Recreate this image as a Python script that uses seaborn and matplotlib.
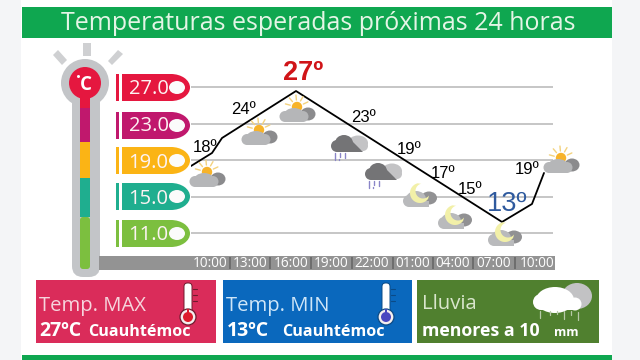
import matplotlib
matplotlib.use("Agg")
import numpy as np
import pandas as pd
import seaborn as sns
import matplotlib.pyplot as plt
from matplotlib.patches import Rectangle, Circle, Ellipse, FancyBboxPatch, Polygon

sns.set_theme(style="white")
plt.rcParams['font.family'] = ['Open Sans', 'DejaVu Sans']

# ---- data -----
title = "Temperaturas esperadas próximas 24 horas"
scale_temps = [27, 23, 19, 15, 11]
scale_labels = ["27.0", "23.0", "19.0", "15.0", "11.0"]
scale_colors = ["#e5173f", "#c0186d", "#fbb415", "#1fae8f", "#7cbf3f"]
hour_labels = ["10:00", "13:00", "16:00", "19:00", "22:00", "01:00", "04:00", "07:00", "10:00"]
hours = [0, 3, 6, 9, 12, 15, 18, 21, 24.2]
line_hours = [-1.41, 0.15, 0.89, 6.37, 21.63, 23.85, 24.74]
line_temps = [18.34, 19.77, 21.41, 26.56, 12.21, 14.18, 17.58]
label_temps = [18, 24, 27, 23, 19, 17, 15, 13, 19]
cards = ["Temp. MAX", "Temp. MIN", "Lluvia"]
card_values = ["27ºC", "13ºC", "menores a 10"]
card_places = ["Cuauhtémoc", "Cuauhtémoc", "mm"]

W, H = 640, 360
fig = plt.figure(figsize=(6.4, 3.6), dpi=100, facecolor="white")

# decorative layer in pixel units, below the chart
bg = fig.add_axes([0, 0, 1, 1], zorder=0)
bg.set_xlim(0, W); bg.set_ylim(H, 0); bg.axis("off")
# icons and labels, above the chart
fg = fig.add_axes([0, 0, 1, 1], zorder=3)
fg.set_xlim(0, W); fg.set_ylim(H, 0); fg.axis("off"); fg.patch.set_alpha(0)


def rect(x, y, w, h, c, z=1, a=bg):
    a.add_patch(Rectangle((x, y), w, h, fc=c, ec="none", zorder=z))


rect(0, 0, 21, H, "#f4f5f7", 0)
rect(612, 0, 28, H, "#f4f5f7", 0)
GREEN = "#0fa750"
rect(22, 7, 590, 31, GREEN)
rect(22, 355, 590, 5, GREEN)
bg.text(318, 23.5, title, color="#e4f5e6", fontsize=18, ha="center", va="center")

# thermometer
GREY = "#c3c5c8"
bg.add_patch(FancyBboxPatch((72, 90), 28, 187, boxstyle="round,pad=0,rounding_size=11",
                            fc=GREY, ec="none", zorder=1))
rect(72, 85, 28, 100, GREY, 1)
bg.add_patch(Circle((85, 83), 24, fc=GREY, ec="none", zorder=1))
bg.add_patch(Circle((85, 83), 16, fc="#e5173f", ec="none", zorder=2))
rect(80, 95, 10, 14, "#e5173f", 2)
rect(80, 108, 10, 34, "#c0186d", 2)
rect(80, 142, 10, 36, "#fbb415", 2)
rect(80, 178, 10, 39, "#1fae8f", 2)
bg.add_patch(FancyBboxPatch((80, 217), 10, 52, boxstyle="round,pad=0,rounding_size=3",
                            fc="#7cbf3f", ec="none", zorder=2))
bg.text(86, 85, "C", color="white", fontsize=13.5, fontweight="bold", ha="center", va="center", zorder=3)
bg.add_patch(Circle((78.5, 76.5), 1.5, fc="white", ec="none", zorder=3))
for xs, ys in [((53, 58, 67, 62), (55, 50, 60, 65)),
               ((83, 91, 91, 83), (43, 43, 56, 56)),
               ((108, 118, 123, 112), (61, 50, 54, 65))]:
    bg.add_patch(Polygon(list(zip(xs, ys)), fc="#cfd0d2", ec="none", zorder=1))

# scale pills
pill_y = [87, 125, 160, 196, 233]
for y, c in zip(pill_y, scale_colors):
    rect(116, y - 13, 3, 27, c, 2)
    rect(122, y - 13, 50, 27, c, 2)
    bg.add_patch(Ellipse((171, y + 0.5), 38, 27, fc=c, ec="none", zorder=2))
    fg.add_patch(Ellipse((177, y + 0.5), 16, 13, fc="#fbfbfb", ec="none", zorder=3))

# time band
rect(99, 256, 456, 14, "#939393", 2)
for x in [230, 270, 311, 352, 393, 433, 473, 515]:
    rect(x - 1, 257, 2, 12, "#6e6e6e", 3)


def sun_cloud(cx, base):
    sy = base - 15
    for a in np.deg2rad([165, 130, 95, 60, 25]):
        fg.plot([cx + 7 * np.cos(a), cx + 12 * np.cos(a)],
                [sy - 7 * np.sin(a), sy - 12 * np.sin(a)],
                color="#f3d27e", lw=1, zorder=3, solid_capstyle="round")
    fg.add_patch(Circle((cx, sy), 5.2, fc="#f7b32a", ec="none", zorder=3))
    # dark lobe on the right
    fg.add_patch(Ellipse((cx + 11, base - 8), 15, 13, fc="#8b8b8d", ec="none", zorder=4))
    # light body
    light = "#b5b6b8"
    fg.add_patch(Circle((cx - 12, base - 5.5), 5.5, fc=light, ec="none", zorder=5))
    fg.add_patch(Ellipse((cx - 3, base - 7), 20, 14, fc=light, ec="none", zorder=5))
    fg.add_patch(Circle((cx + 6, base - 5.5), 5.5, fc=light, ec="none", zorder=5))
    rect(cx - 12, base - 6, 18, 6, light, 5, fg)


def moon_cloud(x0, y0):
    # dark lobe
    fg.add_patch(Ellipse((x0 + 26, y0 + 15), 16, 13, fc="#919193", ec="none", zorder=4))
    # crescent
    t = np.deg2rad(np.linspace(70, 290, 40))
    cx, cy, r = x0 + 17, y0 + 10, 10
    outer = np.c_[cx + r * np.cos(t + 0.6), cy - r * np.sin(t + 0.6)]
    inner = np.c_[cx + 3 + 7.5 * np.cos(t[::-1] + 0.6), cy - 2 - 7.5 * np.sin(t[::-1] + 0.6)]
    fg.add_patch(Polygon(np.r_[outer, inner], fc="#f2f0a8", ec="none", zorder=5))
    # light body
    light = "#b9babc"
    fg.add_patch(Circle((x0 + 6, y0 + 18), 6, fc=light, ec="none", zorder=4.5))
    fg.add_patch(Ellipse((x0 + 13, y0 + 16), 20, 16, fc=light, ec="none", zorder=4.5))
    rect(x0 + 6, y0 + 18, 20, 6, light, 4.5, fg)


def rain_cloud(x0, y0):
    fg.add_patch(Ellipse((x0 + 27, y0 + 8), 20, 15, fc="#c3c3c5", ec="none", zorder=4))
    fg.add_patch(Circle((x0 + 32, y0 + 11), 5, fc="#c3c3c5", ec="none", zorder=4))
    dark = "#747476"
    fg.add_patch(Circle((x0 + 6, y0 + 11), 6, fc=dark, ec="none", zorder=5))
    fg.add_patch(Ellipse((x0 + 13, y0 + 8), 18, 16, fc=dark, ec="none", zorder=5))
    fg.add_patch(Polygon([(x0 + 6, y0 + 7), (x0 + 22, y0 + 7), (x0 + 32, y0 + 17), (x0 + 6, y0 + 17)],
                         fc=dark, ec="none", zorder=5))
    for dx, l in [(4, 7), (9, 4), (14, 5)]:
        fg.plot([x0 + dx, x0 + dx], [y0 + 18, y0 + 18 + l], color="#8a85c8", lw=1, zorder=4)
    fg.plot([x0 + 8, x0 + 8], [y0 + 24, y0 + 25], color="#8a85c8", lw=1, zorder=4)


for p in [(207, 187), (259, 145), (297, 122), (561, 173)]:
    sun_cloud(*p)
for p in [(331, 135), (365, 163)]:
    rain_cloud(*p)
for p in [(403, 183), (438, 205), (488, 222)]:
    moon_cloud(*p)

# cards
card_x = [36, 223, 417]
card_w = [180, 189, 182]
card_c = ["#da2c5a", "#0a68bd", "#50802f"]
card_tc = ["#f6d5dd", "#cfe6f8", "#d9e6cc"]
place_x = [88, 282, 554]
place_size = [11.6, 11.6, 9]
for i, (x, w, c, tc, t, v) in enumerate(zip(card_x, card_w, card_c, card_tc, cards, card_values)):
    rect(x, 280, w, 63, c, 1)
    bg.text(x + 3 if i < 2 else x + 5, 306 if i < 2 else 304, t, color=tc, fontsize=14.6,
            ha="left", va="center", zorder=3)
    bg.text(x + 3 if i == 0 else (x + 4 if i == 1 else x + 5), 331, v, color="white",
            fontsize=14 if i < 2 else 12.8, fontweight="bold", ha="left", va="center", zorder=3)
    bg.text(place_x[i], 332, card_places[i], color="white", fontsize=place_size[i], fontweight="bold",
            ha="left", va="center", zorder=3)


def thermo(x, edge, fill):
    bg.add_patch(FancyBboxPatch((x - 4, 283), 8, 36, boxstyle="round,pad=0,rounding_size=3.5",
                                fc="white", ec=edge, lw=0.7, zorder=2))
    bg.add_patch(Circle((x, 317), 8, fc="#f4eeee", ec=edge, lw=0.9, zorder=3))
    bg.add_patch(Circle((x, 317), 5, fc=fill, ec="none", zorder=4))
    rect(x - 1.2, 309, 2.4, 6, fill, 4)
    for dy in [289, 295, 301]:
        bg.plot([x + 5, x + 9], [dy, dy], color=edge, lw=0.8, zorder=3)


thermo(188, "#6f1a2e", "#dd1c2c")
thermo(386, "#0b4a86", "#4a47c0")

# rain cloud on the third card
bg.add_patch(Ellipse((577, 296), 30, 26, fc="#c2c2c4", ec="none", zorder=2))
bg.add_patch(Ellipse((555, 300), 38, 26, fc="white", ec="none", zorder=3))
bg.add_patch(Circle((541, 302), 8, fc="white", ec="none", zorder=3))
bg.add_patch(Circle((575, 304), 6.5, fc="white", ec="none", zorder=3))
rect(541, 302, 34, 8, "white", 3)
for dx, y0, l in [(540, 311, 7), (550, 311, 4), (557, 311, 3), (564, 311, 8), (571, 311, 4), (578, 312, 8)]:
    bg.plot([dx, dx], [y0, y0 + l], color="#b7c9a8", lw=0.9, zorder=3)

# chart layer: pixel box aligned so that the scales land on the drawing
L, R, T, B = 191, 553, 60, 270
px_per_deg = (233 - 87) / 16.0
px_per_hour = 40.5 / 3.0
ax = fig.add_axes([L / W, 1 - B / H, (R - L) / W, (B - T) / H], zorder=2)
ax.patch.set_alpha(0)
ax.set_xlim(-(210 - L) / px_per_hour, (R - 210) / px_per_hour)
ax.set_ylim(27 - (B - 87) / px_per_deg, 27 + (87 - T) / px_per_deg)
sns.despine(ax=ax, left=True, bottom=True, top=True, right=True)
ax.grid(False)

for t in scale_temps:
    ax.axhline(t, color="#c2c2c2", lw=1.3, zorder=1)

df = pd.DataFrame({"hour": line_hours, "temp": line_temps})
sns.lineplot(data=df, x="hour", y="temp", sort=False, color="black", lw=1.3, ax=ax, zorder=8,
             estimator=None)
ax.set_xlabel(""); ax.set_ylabel("")

ax.set_yticks(scale_temps, scale_labels)
ax.tick_params(axis="y", length=0, pad=16.2, labelsize=14.5, labelcolor="#fdf3f3")
ax.set_xticks(hours, hour_labels)
ax.tick_params(axis="x", length=0, pad=-9.8, labelsize=9.8, labelcolor="white")
for lb in ax.get_xticklabels():
    lb.set_clip_on(False)

# temperature labels
xpix = [205, 243, 303, 363, 409, 443, 470, 507, 527]
ypix = [147, 109, 73, 117, 149, 173, 189, 204, 170]
size = [12, 12, 19.5, 12, 12, 12, 12, 19.5, 12]
col = ["black", "black", "#d01418", "black", "black", "black", "black", "#2f5a9e", "black"]
wgt = ["normal", "normal", "bold", "normal", "normal", "normal", "normal", "normal", "normal"]
for t, xp, yp, s, c, w in zip(label_temps, xpix, ypix, size, col, wgt):
    fg.text(xp, yp, f"{t}º", color=c, fontsize=s, fontweight=w, family="Liberation Sans",
            ha="center", va="center", zorder=9)

fig.savefig("out.png", dpi=100)
